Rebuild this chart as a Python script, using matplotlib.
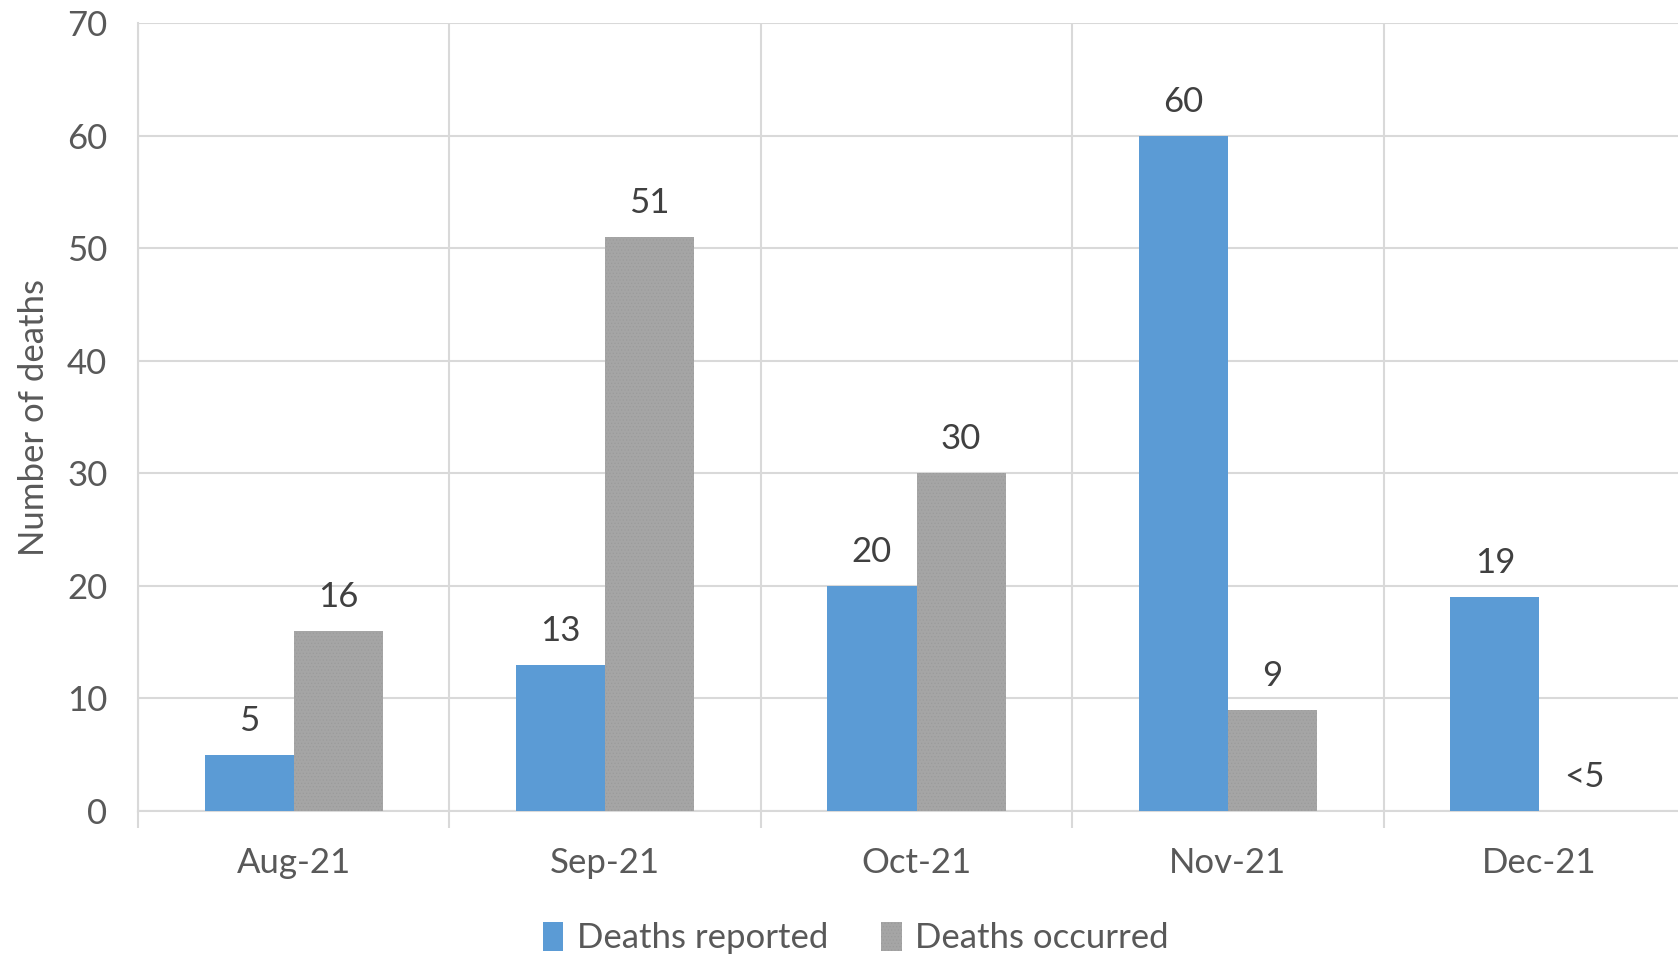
import numpy as np
import matplotlib

matplotlib.use('Agg')
import matplotlib.pyplot as plt

plt.rcParams['font.family'] = ['Lato', 'DejaVu Sans']
plt.rcParams['hatch.linewidth'] = 0.4

months = ['Aug-21', 'Sep-21', 'Oct-21', 'Nov-21', 'Dec-21']
reported = [5, 13, 20, 60, 19]
occurred = [16, 51, 30, 9, 0]
reported_labels = ['5', '13', '20', '60', '19']
occurred_labels = ['16', '51', '30', '9', '<5']

blue = '#5b9bd5'
grey = '#a5a5a5'
text_col = '#595959'
grid_col = '#d9d9d9'
fs = 25

fig = plt.figure(figsize=(16.78, 9.59), dpi=100)
ax = fig.add_axes([0.0822, 0.1543, 0.928, 0.8217])

x = np.arange(len(months))
w = 0.286
b1 = ax.bar(x - w / 2, reported, width=w, color=blue, label='Deaths reported', zorder=3)
b2 = ax.bar(x + w / 2, occurred, width=w, facecolor=grey, edgecolor='#9a9a9a',
            linewidth=0, hatch='.....', label='Deaths occurred', zorder=3)

for bars, labels in [(b1, reported_labels), (b2, occurred_labels)]:
    for bar, lab in zip(bars, labels):
        h = bar.get_height()
        ax.annotate(lab, (bar.get_x() + bar.get_width() / 2, h),
                    xytext=(0, 13), textcoords='offset points',
                    ha='center', va='bottom', fontsize=fs, color='#404040')

ax.set_xlim(-0.5, len(months) - 0.5)
ax.set_ylim(0, 70)
ax.set_yticks(range(0, 71, 10))
ax.set_xticks(x)
ax.set_xticklabels(months)
ax.set_xticks(np.arange(-0.5, len(months), 1), minor=True)

ax.yaxis.grid(True, color=grid_col, linewidth=1.5, zorder=0)
ax.xaxis.grid(True, which='minor', color=grid_col, linewidth=1.5, zorder=0)
ax.xaxis.grid(False, which='major')

for s in ['top', 'right']:
    ax.spines[s].set_visible(False)
ax.spines['left'].set_color(grid_col)
ax.spines['left'].set_linewidth(1.5)
ax.spines['bottom'].set_color(grid_col)
ax.spines['bottom'].set_linewidth(1.5)

ax.tick_params(axis='y', length=0, labelsize=fs, labelcolor=text_col, pad=22)
ax.tick_params(axis='x', which='major', length=0, labelsize=fs, labelcolor=text_col, pad=26)
ax.tick_params(axis='x', which='minor', length=12, width=1.5, color=grid_col)

ax.set_ylabel('Number of deaths', fontsize=fs, color=text_col, labelpad=12)

fig.legend(loc='center', bbox_to_anchor=(0.51, 0.022), ncol=2, frameon=False,
           fontsize=fs, labelcolor=text_col, handlelength=0.6, handleheight=0.9,
           handletextpad=0.4, columnspacing=1.5)

fig.savefig('out.png', dpi=100)
